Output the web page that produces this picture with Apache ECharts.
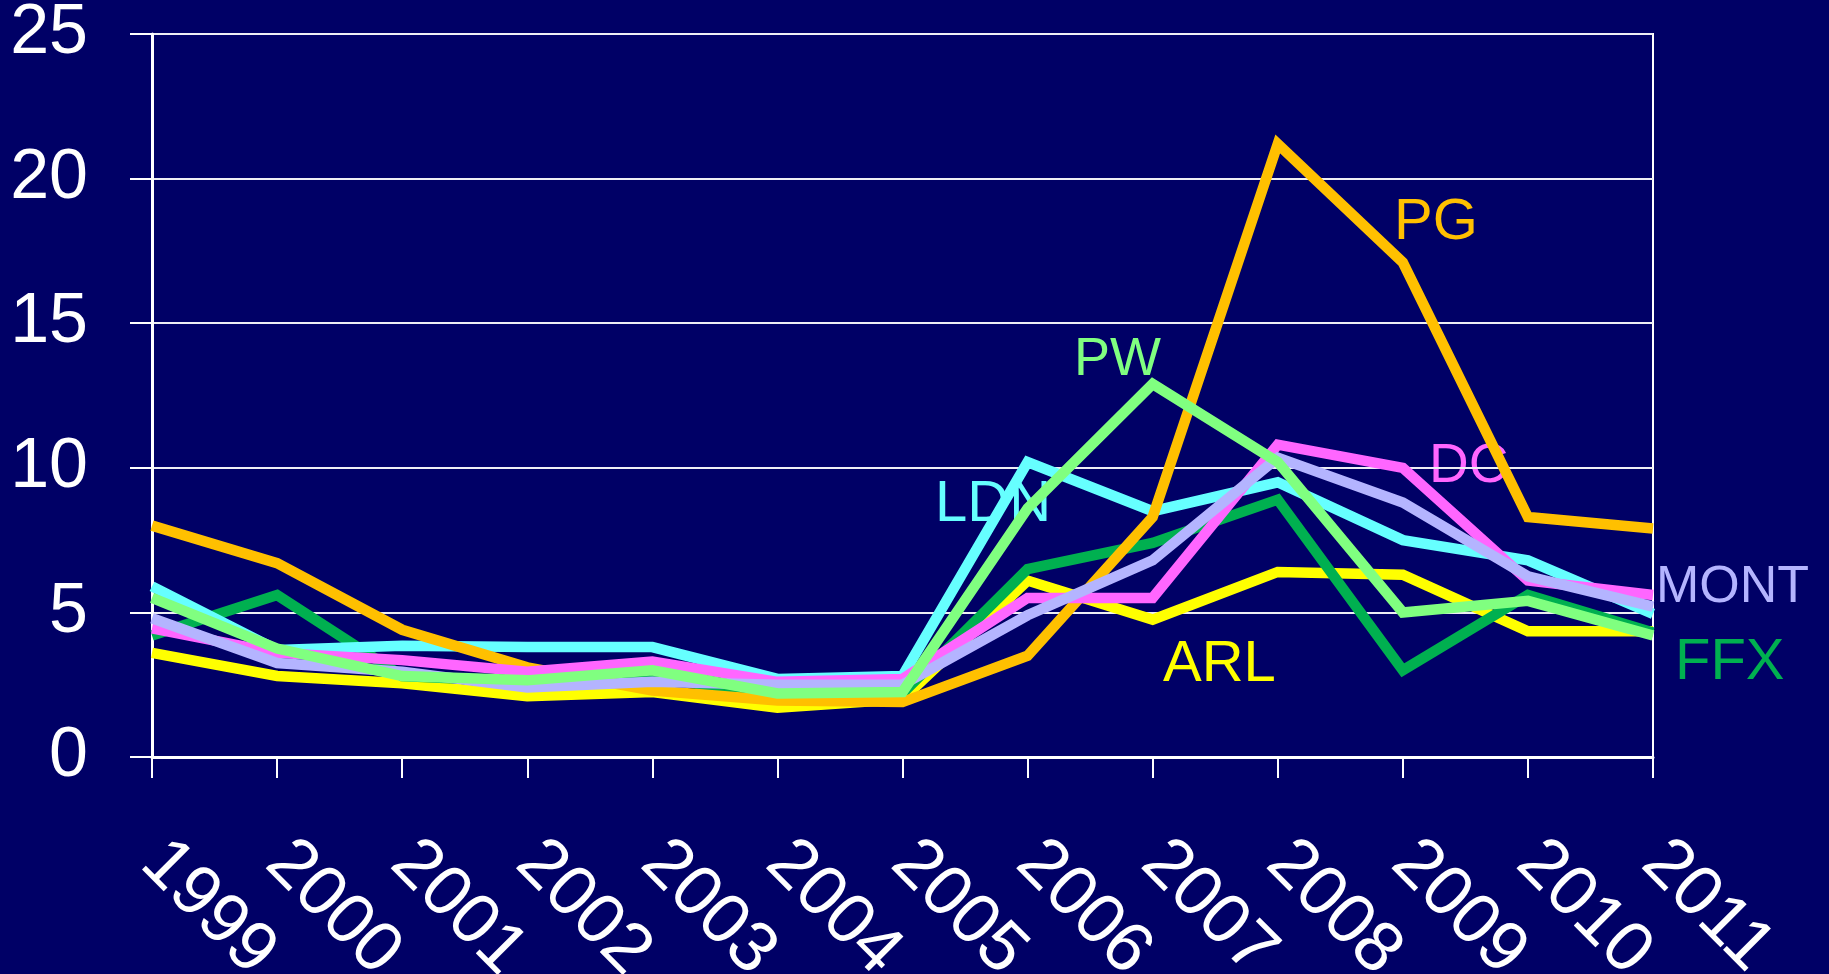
<!DOCTYPE html>
<html>
<head>
<meta charset="utf-8">
<script src="https://cdn.jsdelivr.net/npm/echarts@6/dist/echarts.min.js"></script>
<style>
html,body{margin:0;padding:0;background:#000066;}
#c{width:1829px;height:974px;}
</style>
</head>
<body>
<div id="c"></div>
<script>
const years = ['1999','2000','2001','2002','2003','2004','2005','2006','2007','2008','2009','2010','2011'];
const yTicks = [0, 5, 10, 15, 20, 25];

const ARL  = [3.6, 2.8, 2.55, 2.1, 2.25, 1.7, 2.0, 6.1, 4.75, 6.4, 6.3, 4.35, 4.35];
const FFX  = [4.2, 5.6, 2.8, 2.6, 2.8, 2.05, 2.2, 6.5, 7.4, 8.9, 3.0, 5.6, 4.3];
const LDN  = [5.9, 3.7, 3.85, 3.8, 3.8, 2.7, 2.8, 10.2, 8.5, 9.5, 7.5, 6.8, 4.95];
const PG   = [8.0, 6.7, 4.4, 3.1, 2.3, 1.95, 1.9, 3.5, 8.3, 21.2, 17.1, 8.3, 7.9];
const DC   = [4.45, 3.6, 3.35, 2.95, 3.3, 2.6, 2.7, 5.5, 5.5, 10.8, 10.0, 6.1, 5.6];
const MONT = [4.8, 3.25, 2.95, 2.4, 2.6, 2.5, 2.5, 4.9, 6.8, 10.35, 8.8, 6.25, 5.2];
const PW   = [5.5, 3.75, 2.8, 2.65, 3.0, 2.2, 2.25, 8.6, 12.9, 10.2, 5.0, 5.4, 4.2];

const seriesDefs = [
  {name: 'ARL',  data: ARL,  color: '#FFFF00'},
  {name: 'FFX',  data: FFX,  color: '#00B050'},
  {name: 'LDN',  data: LDN,  color: '#66FFFF'},
  {name: 'PG',   data: PG,   color: '#FFC000'},
  {name: 'DC',   data: DC,   color: '#FF66FF'},
  {name: 'MONT', data: MONT, color: '#B4B4FF'},
  {name: 'PW',   data: PW,   color: '#80FF80'}
];

// annotation text layout (pixels)
const annotations = [
  {text: 'PG',   color: '#FFC000', x: 1394, y: 230, size: 58},
  {text: 'PW',   color: '#80FF80', x: 1074, y: 367, size: 54},
  {text: 'DC',   color: '#FF66FF', x: 1429, y: 473, size: 55},
  {text: 'LDN',  color: '#66FFFF', x: 935,  y: 512, size: 58},
  {text: 'MONT', color: '#B4B4FF', x: 1656, y: 594, size: 52},
  {text: 'FFX',  color: '#00B050', x: 1675, y: 670, size: 58},
  {text: 'ARL',  color: '#FFFF00', x: 1163, y: 672, size: 58}
];

const chart = echarts.init(document.getElementById('c'), null, {renderer: 'canvas'});
const font = '"Liberation Sans", Arial, sans-serif';

chart.setOption({
  backgroundColor: '#000066',
  animation: false,
  grid: {left: 152, right: 176, top: 34, bottom: 217, containLabel: false, outerBoundsMode: 'none',
         show: true, borderColor: '#ffffff', borderWidth: 2, backgroundColor: 'transparent'},
  xAxis: {
    type: 'category',
    data: years,
    boundaryGap: false,
    axisLine: {show: true, lineStyle: {color: '#ffffff', width: 3}},
    axisTick: {show: true, length: 21, inside: false, alignWithLabel: true, lineStyle: {color: '#ffffff', width: 2}},
    axisLabel: {color: '#ffffff', fontSize: 71, fontFamily: font, rotate: -45, margin: 95, interval: 0},
    splitLine: {show: false}
  },
  yAxis: {
    type: 'value',
    min: yTicks[0],
    max: yTicks[yTicks.length - 1],
    interval: 5,
    axisLine: {show: true, lineStyle: {color: '#ffffff', width: 3}},
    axisTick: {show: true, length: 22, lineStyle: {color: '#ffffff', width: 2}},
    axisLabel: {color: '#ffffff', fontSize: 70, fontFamily: font, margin: 64},
    splitLine: {show: true, lineStyle: {color: '#EEEEF4', width: 2}}
  },
  series: seriesDefs.map(s => ({
    name: s.name,
    type: 'line',
    data: s.data,
    showSymbol: false,
    symbol: 'none',
    lineStyle: {color: s.color, width: 10.5, join: 'miter', cap: 'butt'},
    itemStyle: {color: s.color}
  })),
  graphic: annotations.map(a => ({
    type: 'text',
    left: a.x,
    top: a.y - a.size * 0.62,
    style: {text: a.text, fill: a.color, font: a.size + 'px ' + font}
  }))
});
</script>
</body>
</html>
